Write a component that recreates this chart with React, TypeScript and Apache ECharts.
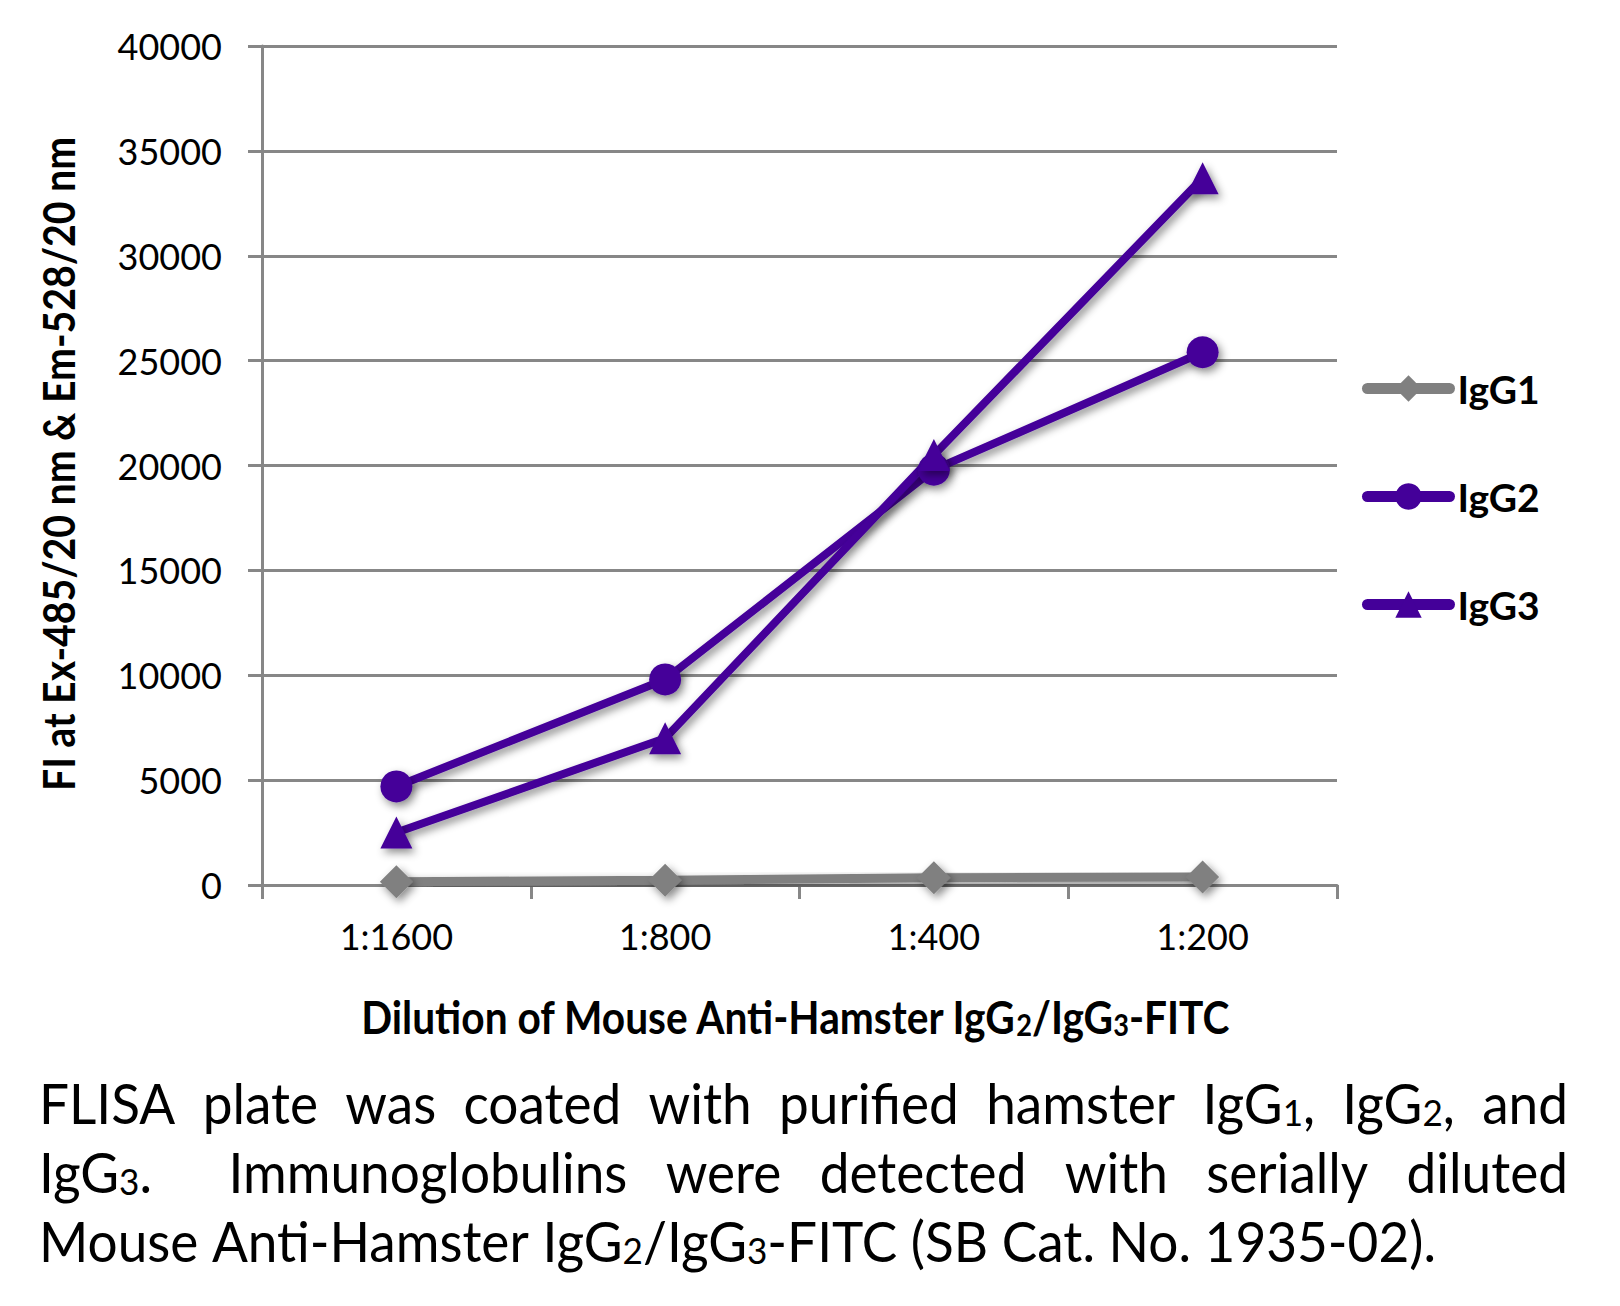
import React, { useEffect, useRef } from "react";
import * as echarts from "echarts";

// ---------- data ----------
const categories = ["1:1600", "1:800", "1:400", "1:200"];
const seriesNames = ["IgG1", "IgG2", "IgG3"];
const igg1Values = [150, 230, 350, 380];
const igg2Values = [4700, 9800, 19800, 25400];
const igg3Values = [2500, 7000, 20500, 33700];
const yMin = 0;
const yMax = 40000;
const yInterval = 5000;

const xTitleParts = ["Dilution of Mouse Anti-Hamster IgG", "_2", "/IgG", "_3", "-FITC"];
const yTitle = "FI at Ex-485/20 nm & Em-528/20 nm";
const captionLines = [
  "FLISA plate was coated with purified hamster IgG_1, IgG_2, and",
  "IgG_3.  Immunoglobulins were detected with serially diluted",
  "Mouse Anti-Hamster IgG_2/IgG_3-FITC (SB Cat. No. 1935-02).",
];

// ---------- styling ----------
const PURPLE = "#440099";
const GRAY = "#808080";
const AXIS_GRAY = "#878787";
const FONT = "Lato";

const shadow = {
  shadowColor: "rgba(0,0,0,0.45)",
  shadowBlur: 8,
  shadowOffsetX: 3,
  shadowOffsetY: 4,
};
const noShadow = { shadowColor: "transparent", shadowBlur: 0, shadowOffsetX: 0, shadowOffsetY: 0 };

let measureCtx: CanvasRenderingContext2D | null = null;
function measure(text: string, size: number, weight: string): number {
  if (!measureCtx) measureCtx = document.createElement("canvas").getContext("2d");
  measureCtx!.font = `${weight} ${size}px ${FONT}`;
  return measureCtx!.measureText(text).width;
}

type Seg = { t: string; s: boolean };
function parseSegs(str: string): Seg[] {
  return str
    .split(/(_\d)/)
    .filter((p) => p.length > 0)
    .map((p) => (p.startsWith("_") ? { t: p.slice(1), s: true } : { t: p, s: false }));
}
function segsWidth(segs: Seg[], big: number, small: number, weight: string) {
  return segs.reduce((a, g) => a + measure(g.t, g.s ? small : big, weight), 0);
}
function segsRich(segs: Seg[]) {
  return segs.map((g) => `{${g.s ? "s" : "n"}|${g.t}}`).join("");
}
function richStyles(big: number, small: number, weight: string) {
  return {
    n: { fontSize: big, fontFamily: FONT, fontWeight: weight, fill: "#000", verticalAlign: "bottom" },
    s: { fontSize: small, fontFamily: FONT, fontWeight: weight, fill: "#000", verticalAlign: "bottom" },
  };
}

function textEl(x: number, y: number, segs: Seg[], big: number, small: number, weight: string, align: string, scaleX: number, rotation = 0) {
  return {
    type: "text",
    x,
    y,
    scaleX,
    scaleY: 1,
    rotation,
    silent: true,
    style: {
      text: segsRich(segs),
      rich: richStyles(big, small, weight),
      fontSize: big,
      fontFamily: FONT,
      fontWeight: weight,
      fill: "#000",
      align,
      textAlign: align,
      verticalAlign: "middle",
      textVerticalAlign: "middle",
    },
  };
}

function buildGraphics() {
  const els: any[] = [];

  // x-axis title
  const xSize = 45;
  const xSmall = 30;
  const xSegs = parseSegs(xTitleParts.join(""));
  const xW = segsWidth(xSegs, xSize, xSmall, "bold");
  els.push(textEl(794.5, 1017, xSegs, xSize, xSmall, "bold", "center", 870 / xW));

  // y-axis title
  const ySize = 43;
  const ySegs = parseSegs(yTitle);
  const yW = segsWidth(ySegs, ySize, ySize, "bold");
  els.push(textEl(58, 464, ySegs, ySize, ySize, "bold", "center", 654 / yW, Math.PI / 2));

  // caption (justified like the reference, last line left aligned)
  const cSize = 56;
  const cSmall = 37;
  const left = 39;
  const right = 1568;
  const lastWidthTarget = 1397;
  const lineYs = [1102, 1171, 1240];
  const spaceW = measure(" ", cSize, "normal");
  const linesWords = captionLines.map((l) => l.split(" ").map(parseSegs));
  const last = linesWords[linesWords.length - 1];
  const lastNatural =
    last.reduce((a, w) => a + segsWidth(w, cSize, cSmall, "normal"), 0) + spaceW * (last.length - 1);
  const sx = lastWidthTarget / lastNatural;
  linesWords.forEach((words, li) => {
    const widths = words.map((w) => segsWidth(w, cSize, cSmall, "normal") * sx);
    const sum = widths.reduce((a, b) => a + b, 0);
    const justify = li < linesWords.length - 1;
    const gap = justify ? (right - left - sum) / (words.length - 1) : spaceW * sx;
    let x = left;
    words.forEach((w, wi) => {
      if (w.length > 0) els.push(textEl(x, lineYs[li], w, cSize, cSmall, "normal", "left", sx));
      x += widths[wi] + gap;
    });
  });
  return els;
}

export default function App() {
  const ref = useRef<HTMLDivElement>(null);
  useEffect(() => {
    document.body.style.margin = "0";
    if (!ref.current) return;
    const chart = echarts.init(ref.current, undefined, { renderer: "svg" });
    const lineSeries = (name: string, data: number[], color: string, symbol: string, symbolSize: number, width: number) => ({
      name,
      type: "line",
      data,
      symbol,
      symbolSize,
      showSymbol: true,
      lineStyle: { color, width, ...shadow },
      itemStyle: { color, ...shadow },
      emphasis: { disabled: true },
    });
    chart.setOption({
      animation: false,
      backgroundColor: "#ffffff",
      grid: { left: 262, right: 283, top: 46, bottom: 421, containLabel: false },
      legend: {
        orient: "vertical",
        left: 1357,
        top: 364,
        itemWidth: 82,
        itemHeight: 33,
        itemGap: 69,
        data: seriesNames,
        selectedMode: false,
        textStyle: { fontFamily: FONT, fontWeight: "bold", fontSize: 39, color: "#000", padding: [0, 0, 0, 3] },
        lineStyle: { width: 11, cap: "round", ...noShadow },
        itemStyle: { ...noShadow },
      },
      xAxis: {
        type: "category",
        data: categories,
        boundaryGap: true,
        axisLine: { show: true, lineStyle: { color: AXIS_GRAY, width: 3 } },
        axisTick: { show: true, length: 14, lineStyle: { color: AXIS_GRAY, width: 3 } },
        axisLabel: { fontFamily: FONT, fontSize: 36, color: "#000", margin: 33 },
        splitLine: { show: false },
      },
      yAxis: {
        type: "value",
        min: yMin,
        max: yMax,
        interval: yInterval,
        axisLine: { show: true, lineStyle: { color: AXIS_GRAY, width: 3 } },
        axisTick: { show: true, length: 14, lineStyle: { color: AXIS_GRAY, width: 3 } },
        axisLabel: {
          fontFamily: FONT,
          fontSize: 36,
          color: "#000",
          margin: 40,
          formatter: (v: number) => String(v),
        },
        splitLine: { show: true, lineStyle: { color: AXIS_GRAY, width: 3 } },
      },
      series: [
        lineSeries(seriesNames[0], igg1Values, GRAY, "diamond", 33, 9),
        lineSeries(seriesNames[1], igg2Values, PURPLE, "circle", 32, 8),
        lineSeries(seriesNames[2], igg3Values, PURPLE, "triangle", 32, 8),
      ],
      graphic: { elements: buildGraphics() },
    });
    return () => chart.dispose();
  }, []);
  return <div ref={ref} style={{ width: 1620, height: 1306 }} />;
}
